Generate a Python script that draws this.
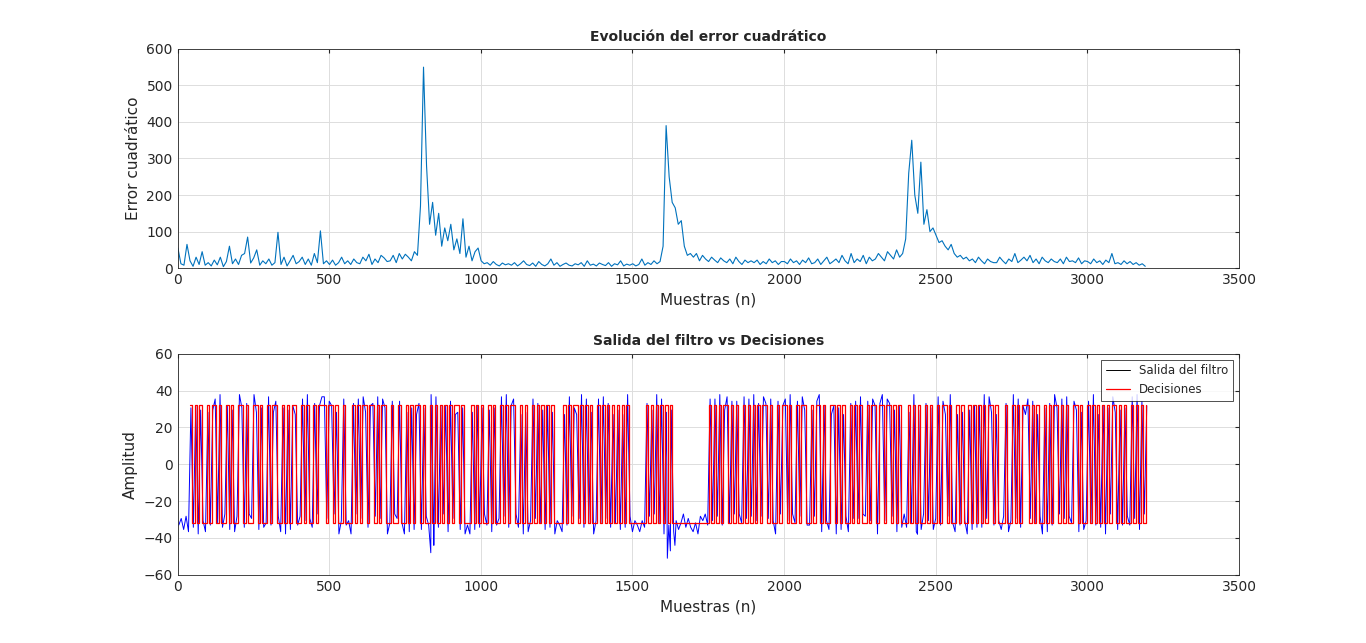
import numpy as np, pandas as pd, seaborn as sns, matplotlib
matplotlib.use("Agg")
import matplotlib.pyplot as plt

sns.set_style("white")
plt.rcParams['font.family'] = ['DejaVu Sans']

err_step = 10
err_text = """55 12 8 65 20 5 30 10 45 8
15 6 22 9 30 4 18 60 12 25
10 35 40 85 14 28 50 8 20 12
25 8 15 98 10 30 6 20 35 12
18 30 10 25 8 40 15 102 12 20
10 22 8 15 30 12 20 10 25 15
12 30 20 38 10 25 15 35 28 18
20 35 15 40 25 38 30 20 45 35
170 550 280 120 180 90 150 60 110 75
120 50 80 40 135 30 60 20 45 55
20 12 15 8 18 10 6 14 9 12
8 15 6 12 20 10 7 14 5 18
10 6 12 25 8 15 5 10 14 8
6 12 9 15 5 20 8 11 6 14
10 7 15 5 12 9 20 6 11 8
12 6 10 25 8 15 10 20 12 18
60 390 250 180 165 120 130 60 35 40
30 40 20 35 25 18 30 22 15 28
20 15 25 12 30 18 10 22 15 20
15 22 10 18 12 25 15 20 10 18
18 12 25 15 20 10 22 15 28 12
15 25 10 20 30 12 18 25 15 35
20 12 40 15 25 18 35 12 30 20
25 40 30 20 45 35 25 50 30 40
80 260 350 200 150 290 120 160 100 110
90 70 75 60 50 65 40 30 35 25
30 20 25 15 30 20 12 25 18 15
15 30 20 12 25 18 40 15 22 30
20 35 15 25 12 30 20 15 25 18
15 25 12 30 18 20 15 28 12 20
18 12 25 15 20 10 22 15 40 12
15 10 20 12 18 10 15 8 12 5"""
err_values = [float(v) for v in err_text.split()]

sym_len = 8
decisions_str = ("xxxxx+-+-+" "--+-++-+--" "+-+--++-+-" "-++-+--+-+" "+--+-+-++-"
    "-+-+--+-++" "+-++-+--+-" "--+-+-++-+" "+-+-++--+-" "-+--+-+-++"
    "-+--+-+-+-" "+-+-++-+--" "-+-+-+--+-" "+--+-+-++-" "-+-+--+-+-"
    "+-+-+----+" "-+-++-+-+-" "+--+-+-+-+" "-+-+-+----" "---+-+-+-+"
    "-+-+------" "---------+" "-+-+-++-+-" "+--+-+-+-+" "-++-+--+-+"
    "+-+--+-++-" "-+-++-+--+" "+-+-+--+-+" "-+--+-++-+" "+-++-+-+--"
    "-+-+-+--+-" "+--+-++-+-" "-+-+--+-+-" "+-+-++-+--" "-+--+-+-++"
    "+-+-+--+-+" "-++-+-+--+" "+-+--+-+-+" "-+-+-++-+-" "+--+-+-+-+")
mag_str = ("5271836492" "3815274960" "4728193650" "2917364851" "6183927405"
    "1739265048" "8264019375" "3950728164" "5182739460" "2649183705"
    "7315928640" "4862017395" "9174630528" "3528196470" "6091837254"
    "2746193580" "5813029674" "1937482560" "4270691835" "8365120947"
    "9152837406" "2684913057" "3719528460" "6048271935" "1852739604"
    "7390461825" "5216984370" "4937018526" "2801637495" "9375128460"
    "6149827053" "3728560194" "8051392746" "4692815037" "1583927640"
    "7264019385" "5930728146" "2817364950" "6493081725" "3158297604")
dips_x = [835, 845, 1615, 1625, 1640, 2440]
dips_y = [-48, -44, -51, -47, -44, -38]
level = 32

dec = []
filt = []
xs = []
for i, (c, m) in enumerate(zip(decisions_str, mag_str)):
    s = -1 if c in "-x" else 1
    dec.append(np.nan if c == "x" else s * level)
    filt.append(s * (27 + int(m) * 1.2))
    xs.append(i * sym_len + sym_len / 2)
df_f = pd.DataFrame({"x": xs + dips_x, "y": filt + dips_y}).sort_values("x")

fig = plt.figure(figsize=(13.66, 6.43), dpi=100)
ax1 = fig.add_axes([0.130, 0.583, 0.777, 0.341])
ax2 = fig.add_axes([0.130, 0.106, 0.777, 0.344])

ex = np.arange(len(err_values)) * err_step + 1
sns.lineplot(x=ex, y=err_values, ax=ax1, color="#0072BD", lw=0.8)
ax1.set_xlim(0, 3500); ax1.set_ylim(0, 600)
ax1.set_title("Evolución del error cuadrático", fontsize=10, fontweight="bold")
ax1.set_xlabel("Muestras (n)", fontsize=11); ax1.set_ylabel("Error cuadrático", fontsize=11)

sns.lineplot(data=df_f, x="x", y="y", ax=ax2, color="blue", lw=0.7, label="Salida del filtro", zorder=2)
ax2.step(np.array(xs) - sym_len / 2, dec, where="post", color="red", lw=0.9, label="Decisiones", zorder=3)
ax2.set_xlim(0, 3500); ax2.set_ylim(-60, 60)
ax2.set_yticks(range(-60, 61, 20))
ax2.set_title("Salida del filtro vs Decisiones", fontsize=10, fontweight="bold")
ax2.set_xlabel("Muestras (n)", fontsize=11); ax2.set_ylabel("Amplitud", fontsize=11)
lg = ax2.legend(loc="upper right", fontsize=8.5, frameon=True, fancybox=False, edgecolor="black")
lg.get_frame().set_linewidth(0.6)
lg.get_lines()[0].set_color("black")

for ax in (ax1, ax2):
    ax.grid(True, color="#dddddd", lw=0.7)
    ax.set_xticks(range(0, 3501, 500))
    ax.tick_params(labelsize=10, direction="in", length=3, top=True, right=True)
    for sp in ax.spines.values():
        sp.set_color("#262626"); sp.set_linewidth(0.6)

fig.savefig("out.png", dpi=100)
